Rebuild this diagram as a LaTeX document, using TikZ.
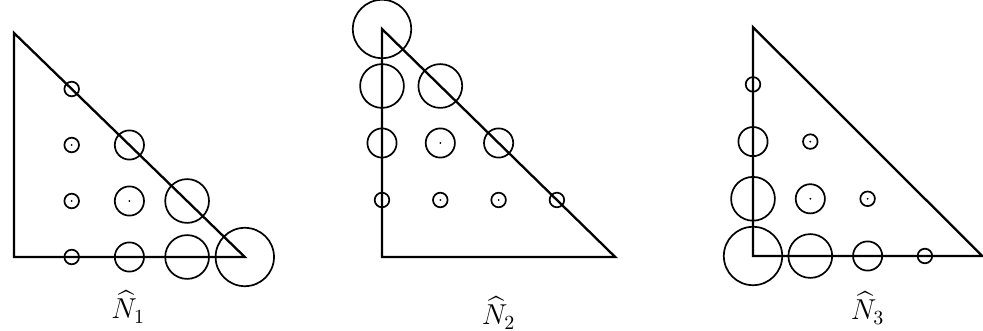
\documentclass[tikz,border=0pt]{standalone}
\usepackage{amsmath}
\usetikzlibrary{positioning}
\tikzset{
  side/.style={line width=1.15pt, line join=miter},
  ring/.style={line width=0.85pt},
  centre/.style={fill=black},
  lbl/.style={font=\Large},
}
\newcommand{\ringrad}{3.65pt}

\begin{document}
\begin{tikzpicture}[x=0.5pt, y=0.5pt]
  \useasboundingbox (0,0) rectangle (983,331);

  % first shape function
  \begin{scope}[shift={(14,74)}, x=28.85pt, y=28pt]
    \coordinate (o1) at (0,0);
    \coordinate (r1) at (4,0);
    \coordinate (t1) at (0,4);
    \draw[side] (o1) -- (r1) -- (t1) -- cycle;
    \foreach \i in {1,...,4} {
      \pgfmathtruncatemacro\jmax{4-\i}
      \foreach \j in {0,...,\jmax}
        \draw[ring] (\i,\j) circle[radius=\i*\ringrad];
    }
    \foreach \p in {(1,1),(2,1),(1,2)}
      \fill[centre] \p circle[radius=0.5pt];
    \node[lbl] (n1) at (1.98,-0.89) {$\widehat{N}_1$};
  \end{scope}

  % second shape function
  \begin{scope}[shift={(382,74)}, x=29.15pt, y=28.5pt]
    \coordinate (o2) at (0,0);
    \coordinate (r2) at (4,0);
    \coordinate (t2) at (0,4);
    \draw[side] (o2) -- (r2) -- (t2) -- cycle;
    \foreach \j in {1,...,4} {
      \pgfmathtruncatemacro\imax{4-\j}
      \foreach \i in {0,...,\imax}
        \draw[ring] (\i,\j) circle[radius=\j*\ringrad];
    }
    \foreach \p in {(1,1),(2,1),(1,2)}
      \fill[centre] \p circle[radius=0.5pt];
    \node[lbl] (n2) at (2,-0.98) {$\widehat{N}_2$};
  \end{scope}

  % third shape function
  \begin{scope}[shift={(753,75)}, x=28.65pt, y=28.6pt]
    \coordinate (o3) at (0,0);
    \coordinate (r3) at (4,0);
    \coordinate (t3) at (0,4);
    \draw[side] (o3) -- (r3) -- (t3) -- cycle;
    \foreach \i in {0,...,3} {
      \pgfmathtruncatemacro\jmax{3-\i}
      \foreach \j in {0,...,\jmax}
        \draw[ring] (\i,\j) circle[radius=(4-\i-\j)*\ringrad];
    }
    \foreach \p in {(1,1),(2,1),(1,2)}
      \fill[centre] \p circle[radius=0.5pt];
    \node[lbl] (n3) at (2,-0.91) {$\widehat{N}_3$};
  \end{scope}
\end{tikzpicture}
\end{document}
